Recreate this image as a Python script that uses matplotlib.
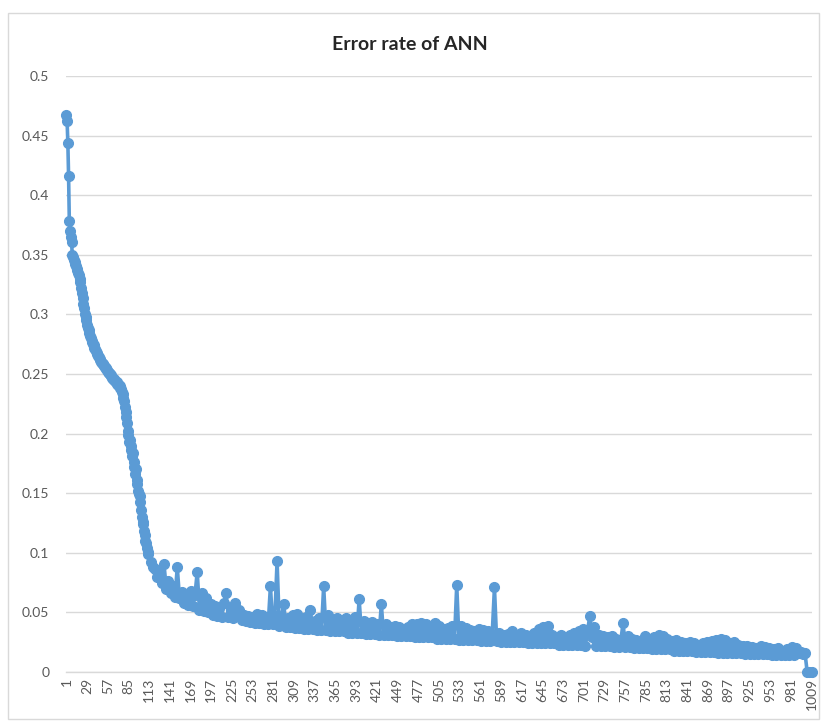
import matplotlib
matplotlib.use("Agg")
import matplotlib.pyplot as plt
from matplotlib.patches import Rectangle

plt.rcParams['font.family'] = ['Lato', 'DejaVu Sans']

title = "Error rate of ANN"

# category indices: every category up to 112, then every 3rd category
head_idx = list(range(1, 113))
tail_idx = list(range(115, 1010, 3))

head_vals = [
    0.467, 0.462, 0.444, 0.416, 0.378, 0.370, 0.365, 0.361, 0.350, 0.348,
    0.346, 0.344, 0.342, 0.341, 0.338, 0.337, 0.335, 0.333, 0.330, 0.327,
    0.322, 0.318, 0.314, 0.309, 0.305, 0.300, 0.298, 0.295, 0.291, 0.289,
    0.287, 0.284, 0.282, 0.280, 0.278, 0.277, 0.275, 0.274, 0.272, 0.271,
    0.269, 0.268, 0.267, 0.265, 0.264, 0.263, 0.262, 0.260, 0.259, 0.258,
    0.258, 0.257, 0.256, 0.255, 0.254, 0.253, 0.252, 0.251, 0.251, 0.250,
    0.249, 0.248, 0.247, 0.246, 0.246, 0.245, 0.244, 0.243, 0.243, 0.242,
    0.241, 0.241, 0.240, 0.238, 0.237, 0.235, 0.233, 0.230, 0.227, 0.222,
    0.218, 0.214, 0.209, 0.202, 0.199, 0.193, 0.195, 0.186, 0.190, 0.181,
    0.184, 0.176, 0.172, 0.166, 0.170, 0.161, 0.158, 0.152, 0.149, 0.143,
    0.148, 0.136, 0.130, 0.126, 0.124, 0.118, 0.115, 0.110, 0.108, 0.104,
    0.101, 0.099,
]

tail_vals = [
    0.092, 0.088, 0.086, 0.080, 0.082, 0.075,
    0.091, 0.070, 0.076, 0.066, 0.072, 0.063, 0.088, 0.062, 0.067, 0.058,
    0.064, 0.056, 0.068, 0.055, 0.065, 0.084, 0.052, 0.066, 0.051, 0.062,
    0.050, 0.057, 0.048, 0.055, 0.047, 0.054, 0.046, 0.058, 0.066, 0.046,
    0.053, 0.045, 0.058, 0.047, 0.052, 0.044, 0.048, 0.043, 0.047, 0.042,
    0.046, 0.041, 0.049, 0.041, 0.048, 0.040, 0.046, 0.040, 0.072, 0.040,
    0.047, 0.093, 0.039, 0.046, 0.057, 0.038, 0.045, 0.038, 0.048, 0.037,
    0.049, 0.037, 0.044, 0.036, 0.046, 0.036, 0.052, 0.036, 0.043, 0.035,
    0.045, 0.035, 0.072, 0.035, 0.048, 0.034, 0.044, 0.034, 0.045, 0.034,
    0.041, 0.034, 0.045, 0.033, 0.043, 0.033, 0.046, 0.033, 0.061, 0.033,
    0.043, 0.032, 0.041, 0.032, 0.042, 0.032, 0.040, 0.031, 0.057, 0.031,
    0.040, 0.031, 0.038, 0.031, 0.039, 0.030, 0.038, 0.030, 0.036, 0.030,
    0.038, 0.030, 0.040, 0.029, 0.040, 0.029, 0.041, 0.029, 0.040, 0.029,
    0.038, 0.029, 0.041, 0.028, 0.039, 0.028, 0.036, 0.028, 0.037, 0.028,
    0.039, 0.028, 0.073, 0.027, 0.039, 0.027, 0.037, 0.027, 0.035, 0.027,
    0.034, 0.027, 0.036, 0.026, 0.035, 0.026, 0.034, 0.026, 0.032, 0.071,
    0.026, 0.033, 0.025, 0.031, 0.025, 0.032, 0.025, 0.034, 0.025, 0.031,
    0.025, 0.033, 0.025, 0.031, 0.024, 0.030, 0.024, 0.033, 0.024, 0.036,
    0.024, 0.038, 0.024, 0.039, 0.024, 0.031, 0.024, 0.029, 0.023, 0.031,
    0.023, 0.029, 0.023, 0.031, 0.023, 0.033, 0.023, 0.034, 0.023, 0.036,
    0.022, 0.035, 0.047, 0.029, 0.038, 0.022, 0.031, 0.022, 0.030, 0.022,
    0.029, 0.022, 0.030, 0.021, 0.028, 0.021, 0.027, 0.041, 0.021, 0.030,
    0.021, 0.028, 0.020, 0.027, 0.020, 0.026, 0.020, 0.030, 0.020, 0.027,
    0.019, 0.029, 0.019, 0.031, 0.019, 0.030, 0.019, 0.028, 0.019, 0.026,
    0.018, 0.027, 0.018, 0.025, 0.018, 0.024, 0.018, 0.025, 0.018, 0.024,
    0.017, 0.023, 0.017, 0.024, 0.017, 0.025, 0.017, 0.026, 0.017, 0.027,
    0.016, 0.028, 0.016, 0.027, 0.016, 0.024, 0.016, 0.025, 0.016, 0.023,
    0.016, 0.022, 0.015, 0.022, 0.015, 0.021, 0.015, 0.020, 0.015, 0.022,
    0.015, 0.021, 0.015, 0.020, 0.014, 0.019, 0.014, 0.020, 0.014, 0.018,
    0.014, 0.019, 0.014, 0.021, 0.014, 0.020, 0.016, 0.017, 0.015, 0.016,
    0.0, 0.0, 0.0,
]

x_tick_labels = [str(v) for v in range(1, 1010, 28)]
y_ticks = [0, 0.05, 0.1, 0.15, 0.2, 0.25, 0.3, 0.35, 0.4, 0.45, 0.5]
y_tick_labels = ["0", "0.05", "0.1", "0.15", "0.2", "0.25", "0.3", "0.35", "0.4", "0.45", "0.5"]

xs = head_idx + tail_idx
ys = head_vals + tail_vals
assert len(head_idx) == len(head_vals) and len(tail_idx) == len(tail_vals)

W, H = 823, 723
fig = plt.figure(figsize=(W / 100, H / 100), dpi=100)
fig.patch.set_facecolor("white")

# chart area border
fig.patches.append(Rectangle((8 / W, 4 / H), (W - 12) / W, (H - 17) / H,
                             transform=fig.transFigure, fill=False,
                             edgecolor="#D9D9D9", linewidth=1.0))

ax = fig.add_axes([66 / W, (H - 672) / H, (812 - 66) / W, (672 - 76) / H])
ax.plot(xs, ys, color="#5B9BD5", linewidth=2.6, marker="o", markersize=7.0,
        markerfacecolor="#5B9BD5", markeredgecolor="#5B9BD5", zorder=3,
        solid_joinstyle="round", clip_on=False)

ax.set_xlim(0.5, 1009.5)
ax.set_ylim(0, 0.5)
ax.set_yticks(y_ticks)
ax.set_yticklabels(y_tick_labels)
ax.set_xticks([int(t) for t in x_tick_labels])
ax.set_xticklabels(x_tick_labels, rotation=90)

ax.grid(axis="y", color="#D9D9D9", linewidth=1.0)
ax.set_axisbelow(True)
for s in ["top", "right", "left"]:
    ax.spines[s].set_visible(False)
ax.spines["bottom"].set_color("#D9D9D9")
ax.spines["bottom"].set_linewidth(1.0)
ax.tick_params(axis="both", length=0, colors="#595959", labelsize=10)
ax.tick_params(axis="y", pad=12)
ax.tick_params(axis="x", pad=4)

fig.text(410 / W, 1 - 45 / H, title, ha="center", va="center",
         fontsize=14, fontweight="bold", color="#262626")

fig.savefig("out.png", dpi=100)
